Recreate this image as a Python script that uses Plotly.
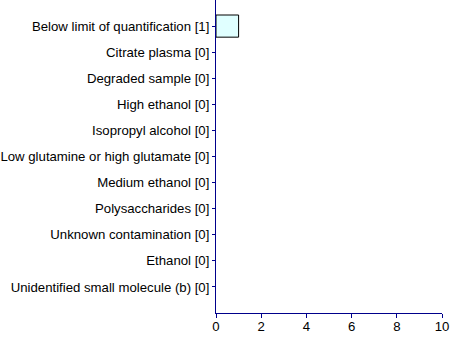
import plotly.graph_objects as go

categories = [
    "Below limit of quantification [1]",
    "Citrate plasma [0]",
    "Degraded sample [0]",
    "High ethanol [0]",
    "Isopropyl alcohol [0]",
    "Low glutamine or high glutamate [0]",
    "Medium ethanol [0]",
    "Polysaccharides [0]",
    "Unknown contamination [0]",
    "Ethanol [0]",
    "Unidentified small molecule (b) [0]",
]
counts = [1, 0, 0, 0, 0, 0, 0, 0, 0, 0, 0]
x_ticks = [0, 2, 4, 6, 8, 10]

axis_color = "#00008B"

# empty categories get no outline so the axis line stays clean
outline_widths = [1 if c > 0 else 0 for c in counts]

fig = go.Figure(
    go.Bar(
        x=counts,
        y=categories,
        orientation="h",
        marker=dict(color="#E0FFFF", line=dict(color="black", width=outline_widths)),
    )
)

fig.update_layout(
    width=450,
    height=342,
    margin=dict(l=216, r=8, t=0, b=29),
    paper_bgcolor="white",
    plot_bgcolor="white",
    bargap=0.15,
    showlegend=False,
    font=dict(family="Liberation Sans, Arial, sans-serif", size=13.2, color="black"),
)

fig.update_xaxes(
    range=[0, 10],
    tickvals=x_ticks,
    showgrid=False,
    zeroline=False,
    showline=True,
    linecolor=axis_color,
    linewidth=1,
    ticks="outside",
    ticklen=4,
    tickcolor=axis_color,
    ticklabelstandoff=-3,
    tickfont=dict(size=13.2, color="black"),
)

fig.update_yaxes(
    type="category",
    categoryorder="array",
    categoryarray=categories,
    range=[11, -1],
    showgrid=False,
    zeroline=False,
    showline=True,
    linecolor=axis_color,
    linewidth=1,
    ticks="outside",
    ticklen=3,
    tickcolor=axis_color,
    tickfont=dict(size=13.2, color="black"),
)

fig.write_html("out.html")
